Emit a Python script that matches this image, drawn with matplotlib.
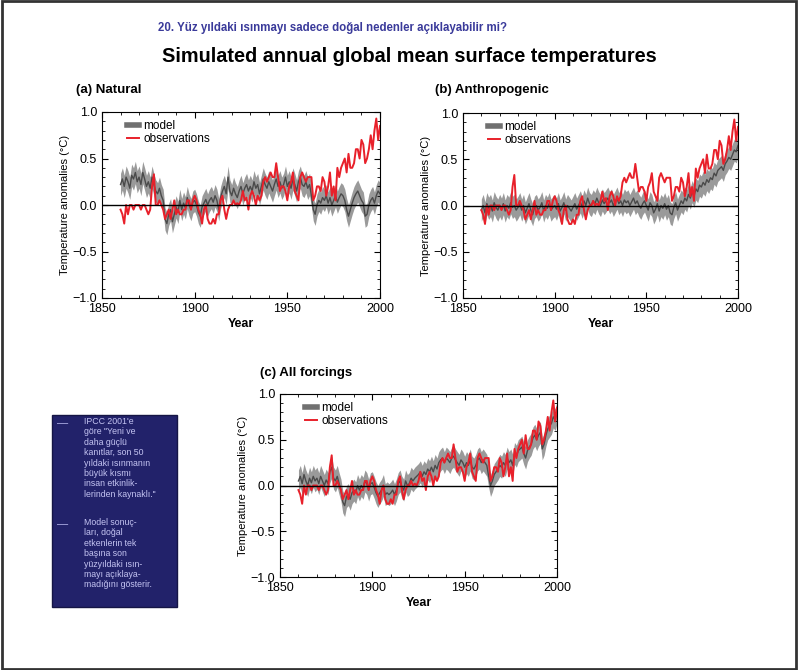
import numpy as np
import matplotlib
matplotlib.use("Agg")
from matplotlib import pyplot as plt
from matplotlib.patches import Rectangle
from matplotlib.ticker import MultipleLocator

plt.rcParams['font.family'] = ['Liberation Sans', 'DejaVu Sans']

years = np.arange(1860, 2001)

observations = [
    -0.05, -0.10, -0.20, 0.00, -0.10, 0.00, 0.00, -0.05, 0.00, 0.00,
    0.00, -0.05, 0.00, 0.00, -0.05, -0.10, -0.05, 0.20, 0.33, 0.00,
    0.00, 0.05, 0.00, -0.05, -0.15, -0.10, -0.05, -0.15, -0.05, 0.05,
    -0.10, -0.05, -0.10, -0.10, -0.05, -0.05, 0.05, 0.05, -0.05, 0.05,
    0.10, 0.05, -0.05, -0.10, -0.20, -0.05, 0.00, -0.15, -0.20, -0.20,
    -0.15, -0.20, -0.10, -0.10, 0.05, 0.10, -0.05, -0.15, -0.05, 0.00,
    0.00, 0.05, 0.00, 0.02, 0.00, 0.05, 0.15, 0.05, 0.08, -0.05,
    0.10, 0.15, 0.10, 0.00, 0.10, 0.05, 0.10, 0.25, 0.30, 0.25,
    0.30, 0.35, 0.30, 0.30, 0.45, 0.30, 0.15, 0.20, 0.20, 0.15,
    0.05, 0.20, 0.25, 0.35, 0.15, 0.10, 0.05, 0.30, 0.35, 0.30,
    0.25, 0.30, 0.30, 0.30, 0.05, 0.10, 0.20, 0.20, 0.15, 0.30,
    0.25, 0.10, 0.20, 0.35, 0.10, 0.20, 0.05, 0.40, 0.30, 0.40,
    0.45, 0.50, 0.35, 0.55, 0.40, 0.40, 0.45, 0.60, 0.60, 0.50,
    0.70, 0.65, 0.45, 0.50, 0.60, 0.75, 0.60, 0.80, 0.93, 0.70,
    0.85,
]

model_natural = [
    0.22, 0.28, 0.20, 0.30, 0.25, 0.18, 0.32, 0.28, 0.35, 0.25,
    0.30, 0.22, 0.35, 0.28, 0.20, 0.25, 0.18, 0.30, 0.22, 0.15,
    0.12, 0.18, 0.10, 0.05, -0.15, -0.20, -0.10, -0.05, -0.18, -0.10,
    -0.02, -0.08, 0.05, -0.05, 0.02, -0.03, 0.08, 0.00, -0.05, 0.03,
    0.05, 0.00, -0.08, -0.12, -0.02, 0.02, 0.06, 0.00, 0.05, 0.08,
    0.03, 0.10, 0.05, -0.05, 0.08, 0.15, 0.20, 0.12, 0.30, 0.15,
    0.10, 0.18, 0.12, 0.08, 0.15, 0.20, 0.12, 0.18, 0.22, 0.15,
    0.20, 0.15, 0.25, 0.18, 0.22, 0.12, 0.20, 0.28, 0.22, 0.18,
    0.25, 0.20, 0.15, 0.22, 0.28, 0.20, 0.25, 0.18, 0.22, 0.30,
    0.20, 0.25, 0.18, 0.28, 0.22, 0.15, 0.25, 0.30, 0.22, 0.20,
    0.25, 0.18, 0.22, 0.10, -0.05, -0.10, 0.00, 0.05, 0.02, 0.08,
    0.05, 0.10, 0.02, 0.08, 0.00, 0.05, 0.10, 0.03, 0.08, 0.12,
    0.10, 0.05, -0.05, -0.12, -0.05, 0.02, 0.08, 0.12, 0.15, 0.10,
    0.05, 0.02, -0.12, -0.10, 0.00, 0.05, 0.08, 0.02, 0.10, 0.15,
    0.12,
]

model_anthro = [
    -0.05, 0.00, -0.08, 0.02, -0.03, 0.00, -0.06, 0.03, -0.02, -0.05,
    0.00, -0.04, 0.02, -0.06, 0.00, -0.03, 0.03, -0.02, 0.00, -0.05,
    -0.02, 0.02, -0.05, 0.00, -0.08, -0.03, 0.02, -0.05, -0.10, -0.02,
    0.00, -0.05, -0.02, 0.03, -0.06, 0.00, -0.03, 0.02, -0.05, -0.02,
    0.00, -0.04, 0.02, -0.06, -0.02, 0.03, -0.05, 0.00, -0.03, -0.06,
    -0.02, 0.02, -0.04, 0.00, 0.04, -0.02, 0.05, 0.00, 0.08, 0.02,
    0.00, 0.05, 0.02, 0.08, 0.03, 0.00, 0.06, 0.02, 0.05, 0.08,
    0.03, 0.06, 0.00, 0.04, 0.08, 0.02, 0.05, 0.00, 0.06, 0.03,
    0.05, 0.00, 0.04, 0.08, 0.02, 0.05, 0.00, -0.03, 0.02, 0.05,
    0.00, -0.05, 0.03, 0.00, -0.08, -0.04, 0.02, -0.06, 0.00, -0.03,
    0.02, -0.04, 0.00, -0.08, -0.10, -0.02, 0.03, -0.05, 0.00, 0.05,
    0.02, 0.08, 0.05, 0.12, 0.08, 0.15, 0.10, 0.18, 0.15, 0.22,
    0.20, 0.25, 0.22, 0.28, 0.25, 0.30, 0.28, 0.35, 0.32, 0.38,
    0.40, 0.42, 0.38, 0.45, 0.48, 0.52, 0.50, 0.55, 0.60, 0.58,
    0.65,
]

model_all = [
    0.05, 0.10, 0.02, 0.12, 0.05, 0.00, 0.08, 0.03, 0.10, 0.05,
    0.08, 0.02, 0.10, 0.05, 0.00, 0.06, 0.02, 0.15, 0.20, 0.08,
    0.05, 0.10, 0.02, -0.05, -0.18, -0.22, -0.12, -0.10, -0.15, -0.08,
    -0.05, -0.08, 0.00, -0.05, 0.00, -0.03, 0.05, 0.02, -0.05, 0.02,
    0.03, -0.02, -0.08, -0.12, -0.08, -0.05, 0.00, -0.10, -0.08, -0.10,
    -0.08, -0.05, -0.10, -0.05, 0.02, 0.05, -0.02, -0.05, 0.05, 0.00,
    0.02, 0.08, 0.05, 0.08, 0.10, 0.12, 0.15, 0.10, 0.15, 0.12,
    0.18, 0.15, 0.20, 0.15, 0.22, 0.18, 0.25, 0.28, 0.30, 0.25,
    0.30, 0.28, 0.25, 0.30, 0.32, 0.28, 0.25, 0.22, 0.28, 0.25,
    0.20, 0.25, 0.22, 0.28, 0.20, 0.18, 0.22, 0.28, 0.30, 0.25,
    0.28, 0.25, 0.22, 0.10, 0.00, 0.05, 0.12, 0.15, 0.18, 0.22,
    0.20, 0.25, 0.22, 0.30, 0.25, 0.28, 0.22, 0.35, 0.32, 0.38,
    0.40, 0.42, 0.35, 0.30, 0.38, 0.42, 0.45, 0.52, 0.55, 0.50,
    0.55, 0.58, 0.40, 0.45, 0.55, 0.62, 0.65, 0.68, 0.75, 0.72,
    0.80,
]

model_spread = 0.12

panel_titles = ["(a) Natural", "(b) Anthropogenic", "(c) All forcings"]
title = "Simulated annual global mean surface temperatures"
subtitle = "20. Yüz yıldaki ısınmayı sadece doğal nedenler açıklayabilir mi?"
box_text_1 = ("IPCC 2001'e\ngöre \"Yeni ve\ndaha güçlü\nkanıtlar, son 50\n"
              "yıldaki ısınmanın\nbüyük kısmı\ninsan etkinlik-\nlerinden kaynaklı.\"")
box_text_2 = ("Model sonuç-\nları, doğal\netkenlerin tek\nbaşına son\n"
              "yüzyıldaki ısın-\nmayı açıklaya-\nmadığını gösterir.")

W, H = 798, 670
fig = plt.figure(figsize=(W / 100, H / 100), dpi=100)

def px(x0, y0, x1, y1):
    return [x0 / W, 1 - y1 / H, (x1 - x0) / W, (y1 - y0) / H]

boxes = [px(102, 112, 380, 298), px(463, 113, 738, 298), px(280, 394, 557, 577)]
models = [model_natural, model_anthro, model_all]
title_pos = [(76, 90), (435, 90), (260, 373)]

obs = np.array(observations)
for k in range(3):
    ax = fig.add_axes(boxes[k])
    m = np.array(models[k])
    ax.fill_between(years, m - model_spread, m + model_spread,
                    color="#9a9a9a", lw=0, zorder=1)
    ax.plot(years, m, color="#4a4a4a", lw=1.0, zorder=2, label="model")
    ax.plot(years, obs, color="#e8202a", lw=1.4, zorder=3, label="observations")
    ax.axhline(0, color="black", lw=1.0, zorder=4)
    ax.set_xlim(1850, 2000)
    ax.set_ylim(-1.0, 1.0)
    ax.set_xticks([1850, 1900, 1950, 2000])
    ax.set_yticks([-1.0, -0.5, 0.0, 0.5, 1.0])
    ax.set_yticklabels(["\u22121.0", "\u22120.5", "0.0", "0.5", "1.0"])
    ax.xaxis.set_minor_locator(MultipleLocator(10))
    ax.yaxis.set_minor_locator(MultipleLocator(0.1))
    ax.tick_params(which="both", direction="in", top=True, right=True, labelsize=9)
    ax.tick_params(which="major", length=4)
    ax.tick_params(which="minor", length=2)
    ax.set_xlabel("Year", fontsize=9, fontweight="bold", labelpad=2)
    ax.set_ylabel("Temperature anomalies (°C)", fontsize=8, labelpad=2)
    leg = ax.legend(loc="upper left", frameon=False, fontsize=8.5,
                    handlelength=1.0, handletextpad=0.4, labelspacing=0.1,
                    borderaxespad=0.3, bbox_to_anchor=(0.06, 1.0))
    leg.get_lines()[0].set_linewidth(4)
    leg.get_lines()[0].set_color("#707070")
    tx, ty = title_pos[k]
    fig.text(tx / W, 1 - ty / H, panel_titles[k], fontsize=9.5,
             fontweight="bold", va="center", ha="left")

fig.text(158 / W, 1 - 28 / H, subtitle, fontsize=8.3, fontweight="bold",
         color="#3a3a9a", va="center", ha="left")
fig.text(409 / W, 1 - 57 / H, title, fontsize=14.3, fontweight="bold",
         va="center", ha="center")

# blue side box
fig.patches.append(Rectangle((52 / W, 1 - 607 / H), 125 / W, 192 / H,
                             transform=fig.transFigure, facecolor="#22226a",
                             edgecolor="#151545", lw=1))
fig.text(57 / W, 1 - 423 / H, "\u2014", color="#b8b8ee", fontsize=8, va="center")
fig.text(84 / W, 1 - 417 / H, box_text_1, color="#c4c4f2", fontsize=6.3,
         va="top", ha="left", linespacing=1.2)
fig.text(57 / W, 1 - 524 / H, "\u2014", color="#b8b8ee", fontsize=8, va="center")
fig.text(84 / W, 1 - 518 / H, box_text_2, color="#c4c4f2", fontsize=6.3,
         va="top", ha="left", linespacing=1.2)

# outer frame
fig.patches.append(Rectangle((0.002, 0.002), 0.996, 0.996, transform=fig.transFigure,
                             fill=False, edgecolor="#333333", lw=2))

fig.savefig("out.png", dpi=100)
